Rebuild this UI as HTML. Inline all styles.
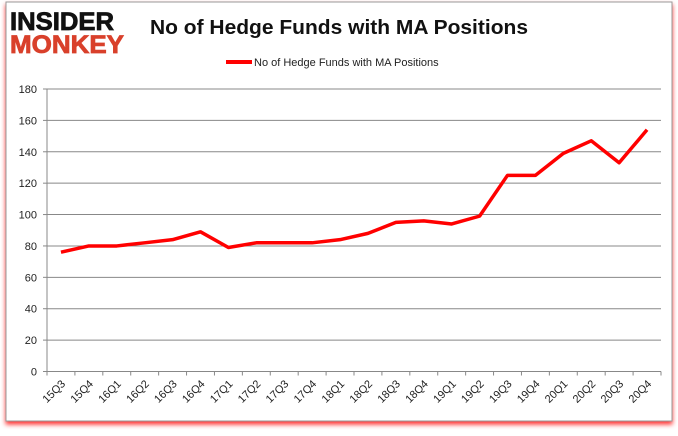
<!DOCTYPE html>
<html><head><meta charset="utf-8"><style>
body{margin:0;background:#fff;width:678px;height:431px;overflow:hidden;font-family:"Liberation Sans",sans-serif}
</style></head><body>
<svg width="678" height="431" id="c">
<defs><filter id="sh" x="-5%" y="-5%" width="110%" height="115%"><feDropShadow dx="0" dy="3" stdDeviation="2.5" flood-color="#f00" flood-opacity="0.8"/></filter></defs>
<rect x="6" y="2" width="666" height="419" fill="#fff" stroke="#999" filter="url(#sh)"/>
<g font-weight="bold" font-family="Liberation Sans" >
<text x="10" y="30" font-size="25" fill="#111" stroke="#111" stroke-width="0.8" textLength="104" lengthAdjust="spacingAndGlyphs">INSIDER</text>
<text x="10" y="53" font-size="25" fill="#d9402b" stroke="#d9402b" stroke-width="0.8" textLength="114" lengthAdjust="spacingAndGlyphs">MONKEY</text>
</g>
<text x="150" y="34" font-size="20" font-weight="bold" fill="#111" textLength="378" lengthAdjust="spacingAndGlyphs">No of Hedge Funds with MA Positions</text>
<g>
<line x1="226" y1="62" x2="252" y2="62" stroke="#f00" stroke-width="4"/>
<text x="254" y="66" font-size="11" fill="#222">No of Hedge Funds with MA Positions</text>
</g>
<g id="grid"></g><g id="axes"></g><g id="series"></g>
</svg>
<script>
const categories=["15Q3","15Q4","16Q1","16Q2","16Q3","16Q4","17Q1","17Q2","17Q3","17Q4","18Q1","18Q2","18Q3","18Q4","19Q1","19Q2","19Q3","19Q4","20Q1","20Q2","20Q3","20Q4"];
const values=[76,80,80,82,84,89,79,82,82,82,84,88,95,96,94,99,125,125,139,147,133,154];
const yTicks=[0,20,40,60,80,100,120,140,160,180];
const L=47,R=661,T=89,B=371.5,yMax=180;
const NS="http://www.w3.org/2000/svg";
const bw=(R-L)/categories.length;
const xs=i=>L+bw*(i+0.5);
const ys=v=>B-(v/yMax)*(B-T);
function mk(t,a,p){const e=document.createElementNS(NS,t);for(const k in a)e.setAttribute(k,a[k]);p.appendChild(e);return e;}
const g=document.getElementById('grid'),ax=document.getElementById('axes'),s=document.getElementById('series');
yTicks.forEach(v=>{
 const y=ys(v);
 const ln=mk('line',{x1:L,x2:R,y1:y,y2:y,stroke:'#888','stroke-width':1},g);
 
 
 mk('line',{x1:L-4,x2:L,y1:y,y2:y,stroke:'#888'},ax);
 const t=mk('text',{x:L-10,y:y+4,'text-anchor':'end','font-size':11,fill:'#222'},ax);
 t.textContent=v;
 
 
});
mk('line',{x1:L,x2:L,y1:T,y2:B,stroke:'#888'},ax);
categories.forEach((c,i)=>{
 const x0=L+bw*i;
 mk('line',{x1:x0,x2:x0,y1:B,y2:B+4,stroke:'#888'},ax);
 const x=xs(i);
 const t=mk('text',{x:x+5,y:B+13,'text-anchor':'end','font-size':11,fill:'#222',transform:`rotate(-45 ${x+5} ${B+13})`},ax);
 t.textContent=c;
 
 
});
mk('line',{x1:R,x2:R,y1:B,y2:B+4,stroke:'#888'},ax);
const p=mk('polyline',{points:values.map((v,i)=>xs(i)+','+ys(v)).join(' '),fill:'none',stroke:'#f00','stroke-width':3.5,'stroke-linejoin':'round'},s);


</script>
</body></html>
